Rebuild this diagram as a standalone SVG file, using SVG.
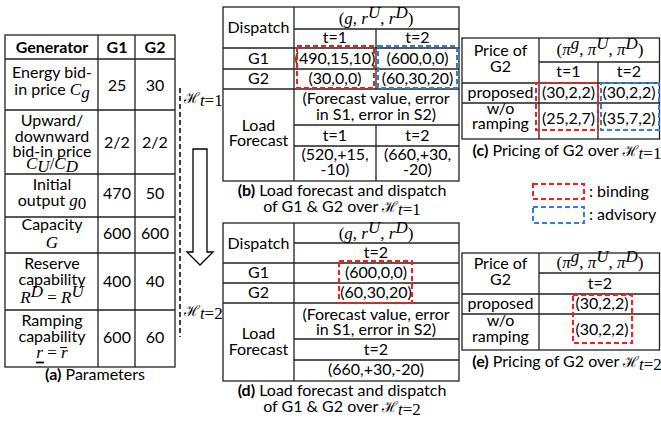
<svg xmlns="http://www.w3.org/2000/svg" width="661" height="421" viewBox="0 0 661 421">
<style>
text{font-family:Lato,"Open Sans","Noto Sans",sans-serif;font-size:16px;fill:#000;text-anchor:middle}
.b{font-weight:bold}
.m{font-family:"Liberation Serif","DejaVu Serif",serif;font-style:italic;font-size:17px}
.mn{font-family:"Liberation Serif","DejaVu Serif",serif;font-style:normal;font-size:17px}
.sc{font-family:"DejaVu Serif","Noto Sans",serif;font-style:normal;font-size:15px}
.ln{stroke:#222;stroke-width:1.3;fill:none}
.red{stroke:#ff1a1a;stroke-width:2;fill:none;stroke-dasharray:5 3}
.blue{stroke:#2f82d0;stroke-width:2;fill:none;stroke-dasharray:5 3}
</style>

<g id="table-a">
<rect class="ln" x="5" y="35" width="170" height="332"/>
<path class="ln" d="M98 35V367M135 35V367M5 59H175M5 110H175M5 174H175M5 217H175M5 253H175M5 310H175"/>
<text class="b" x="52" y="53">Generator</text>
<text class="b" x="117" y="53">G1</text>
<text class="b" x="155" y="53">G2</text>
<text x="52" y="78">Energy bid-</text>
<text x="52" y="95">in price <tspan class="m">C</tspan><tspan class="m" font-size="12" dy="3">g</tspan></text>
<text x="117" y="91">25</text><text x="155" y="91">30</text>
<text x="52" y="126">Upward/</text>
<text x="52" y="142">downward</text>
<text x="52" y="157">bid-in price</text>
<text x="52" y="169"><tspan class="m">C</tspan><tspan class="m" font-size="12" dy="3">U</tspan><tspan class="mn" dy="-3">/</tspan><tspan class="m">C</tspan><tspan class="m" font-size="12" dy="3">D</tspan></text>
<text x="117" y="148">2/2</text><text x="155" y="148">2/2</text>
<text x="52" y="190">Initial</text>
<text x="52" y="206">output <tspan class="m">g</tspan><tspan class="mn" font-size="12" dy="3">0</tspan></text>
<text x="117" y="199">470</text><text x="155" y="199">50</text>
<text x="52" y="230">Capacity</text>
<text class="m" x="52" y="248">G</text>
<text x="117" y="239">600</text><text x="155" y="239">600</text>
<text x="52" y="269">Reserve</text>
<text x="52" y="285">capability</text>
<text x="52" y="303"><tspan class="m">R</tspan><tspan class="m" font-size="12" dy="-6">D</tspan><tspan class="mn" dy="6"> = </tspan><tspan class="m">R</tspan><tspan class="m" font-size="12" dy="-6">U</tspan></text>
<text x="117" y="287">400</text><text x="155" y="287">40</text>
<text x="52" y="326">Ramping</text>
<text x="52" y="342">capability</text>
<text class="mn" x="52" y="358"><tspan class="m">r</tspan> = <tspan class="m">r</tspan></text>
<path d="M36 362.5H44" stroke="#000" stroke-width="1.8"/>
<path d="M60 347.5H67" stroke="#000" stroke-width="1"/>
<text x="117" y="343">600</text><text x="155" y="343">60</text>
<text x="95" y="380"><tspan class="b">(a)</tspan> Parameters</text>
</g>

<g id="connectors">
<path d="M180 88V337" stroke="#000" stroke-width="1.5" stroke-dasharray="5 3" fill="none"/>
<text class="sc" x="184" y="103" style="text-anchor:start">ℋ<tspan class="m" font-size="12" dy="3">t</tspan><tspan class="mn" font-size="12">=1</tspan></text>
<text class="sc" x="184" y="316" style="text-anchor:start">ℋ<tspan class="m" font-size="12" dy="3">t</tspan><tspan class="mn" font-size="12">=2</tspan></text>
<polygon points="193,149 207,149 207,252 213,252 200,265 187,252 193,252" fill="#fff" stroke="#000" stroke-width="1.3"/>
</g>

<g id="table-b">
<rect class="ln" x="223" y="7" width="236" height="174"/>
<path class="ln" d="M294 7V181M376 29V89M376 125V181M294 29H459M223 48H459M223 69H459M223 89H459M294 125H459M294 146H459"/>
<text x="258.5" y="33">Dispatch</text>
<text class="mn" x="376" y="24">(<tspan class="m">g</tspan>, <tspan class="m">r</tspan><tspan class="m" font-size="12" dy="-6">U</tspan><tspan dy="6">, </tspan><tspan class="m">r</tspan><tspan class="m" font-size="12" dy="-6">D</tspan><tspan dy="6">)</tspan></text>
<text x="335" y="43">t=1</text><text x="417.5" y="43">t=2</text>
<text x="258.5" y="64">G1</text>
<text x="335" y="64">(490,15,10)</text><text x="417.5" y="64">(600,0,0)</text>
<text x="258.5" y="84">G2</text>
<text x="335" y="84">(30,0,0)</text><text x="417.5" y="84">(60,30,20)</text>
<text x="258.5" y="131">Load</text>
<text x="258.5" y="146">Forecast</text>
<text x="376" y="104">(Forecast value, error</text>
<text x="376" y="120">in S1, error in S2)</text>
<text x="335" y="141">t=1</text><text x="417.5" y="141">t=2</text>
<text x="335" y="160">(520,+15,</text><text x="335" y="175">-10)</text>
<text x="417.5" y="160">(660,+30,</text><text x="417.5" y="175">-20)</text>
<rect class="red" x="297" y="46" width="77" height="42"/>
<rect class="blue" x="378" y="46" width="79" height="42"/>
<text x="342" y="196"><tspan class="b">(b)</tspan> Load forecast and dispatch</text>
<text x="342" y="212">of G1 &amp; G2 over <tspan class="sc">ℋ</tspan><tspan class="m" font-size="12" dy="3">t</tspan><tspan class="mn" font-size="12">=1</tspan></text>
</g>

<g id="table-c">
<rect class="ln" x="462" y="38" width="197.5" height="101"/>
<path class="ln" d="M539 38V139M598 62V139M539 62H660M462 83H660M462 103H660"/>
<text x="500.5" y="56">Price of</text>
<text x="500.5" y="72">G2</text>
<text class="mn" x="600" y="55">(<tspan class="m">π</tspan><tspan class="m" font-size="12" dy="-6">g</tspan><tspan dy="6">, </tspan><tspan class="m">π</tspan><tspan class="m" font-size="12" dy="-6">U</tspan><tspan dy="6">, </tspan><tspan class="m">π</tspan><tspan class="m" font-size="12" dy="-6">D</tspan><tspan dy="6">)</tspan></text>
<text x="568.5" y="77">t=1</text><text x="629" y="77">t=2</text>
<text x="500.5" y="98">proposed</text>
<text x="568.5" y="98">(30,2,2)</text><text x="629" y="98">(30,2,2)</text>
<text x="500.5" y="114">w/o</text>
<text x="500.5" y="129">ramping</text>
<text x="568.5" y="124">(25,2,7)</text><text x="629" y="124">(35,7,2)</text>
<rect class="red" x="536" y="83" width="62" height="47"/>
<rect class="blue" x="601" y="83" width="58" height="47"/>
<text x="567" y="156"><tspan class="b">(c)</tspan> Pricing of G2 over <tspan class="sc">ℋ</tspan><tspan class="m" font-size="12" dy="3">t</tspan><tspan class="mn" font-size="12">=1</tspan></text>
</g>

<g id="legend">
<rect class="red" x="533" y="184" width="51" height="15"/>
<text x="589" y="197" style="text-anchor:start">: binding</text>
<rect class="blue" x="533" y="207" width="51" height="16"/>
<text x="589" y="220" style="text-anchor:start">: advisory</text>
</g>

<g id="table-d">
<rect class="ln" x="223" y="223" width="236" height="158"/>
<path class="ln" d="M294 223V381M294 243H459M223 263H459M223 283H459M223 303H459M294 339H459M294 360H459"/>
<text x="258.5" y="249">Dispatch</text>
<text class="mn" x="376" y="239">(<tspan class="m">g</tspan>, <tspan class="m">r</tspan><tspan class="m" font-size="12" dy="-6">U</tspan><tspan dy="6">, </tspan><tspan class="m">r</tspan><tspan class="m" font-size="12" dy="-6">D</tspan><tspan dy="6">)</tspan></text>
<text x="376" y="258">t=2</text>
<text x="258.5" y="278">G1</text><text x="376" y="278">(600,0,0)</text>
<text x="258.5" y="298">G2</text><text x="376" y="298">(60,30,20)</text>
<text x="376" y="320">(Forecast value, error</text>
<text x="376" y="335">in S1, error in S2)</text>
<text x="258.5" y="339">Load</text>
<text x="258.5" y="355">Forecast</text>
<text x="376" y="355">t=2</text>
<text x="376" y="375">(660,+30,-20)</text>
<rect class="red" x="339" y="261" width="73" height="42"/>
<text x="342" y="396"><tspan class="b">(d)</tspan> Load forecast and dispatch</text>
<text x="342" y="412">of G1 &amp; G2 over <tspan class="sc">ℋ</tspan><tspan class="m" font-size="12" dy="3">t</tspan><tspan class="mn" font-size="12">=2</tspan></text>
</g>

<g id="table-e">
<rect class="ln" x="462" y="253" width="197.5" height="97"/>
<path class="ln" d="M539 253V350M539 273H660M462 294H660M462 314H660"/>
<text x="500.5" y="269">Price of</text>
<text x="500.5" y="285">G2</text>
<text class="mn" x="600" y="268">(<tspan class="m">π</tspan><tspan class="m" font-size="12" dy="-6">g</tspan><tspan dy="6">, </tspan><tspan class="m">π</tspan><tspan class="m" font-size="12" dy="-6">U</tspan><tspan dy="6">, </tspan><tspan class="m">π</tspan><tspan class="m" font-size="12" dy="-6">D</tspan><tspan dy="6">)</tspan></text>
<text x="600" y="289">t=2</text>
<text x="500.5" y="309">proposed</text>
<text x="602" y="309">(30,2,2)</text>
<text x="500.5" y="326">w/o</text>
<text x="500.5" y="342">ramping</text>
<text x="602" y="335">(30,2,2)</text>
<rect class="red" x="573" y="295" width="59" height="48"/>
<text x="567" y="367"><tspan class="b">(e)</tspan> Pricing of G2 over <tspan class="sc">ℋ</tspan><tspan class="m" font-size="12" dy="3">t</tspan><tspan class="mn" font-size="12">=2</tspan></text>
</g>
</svg>
